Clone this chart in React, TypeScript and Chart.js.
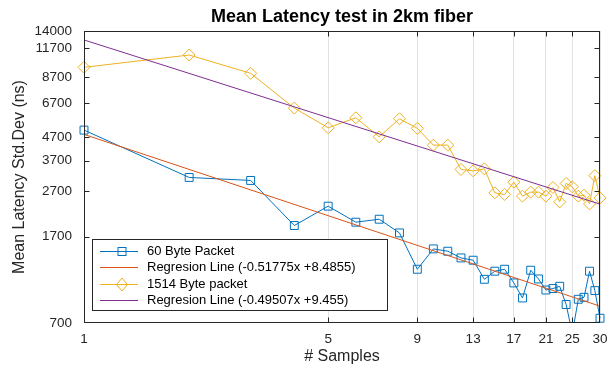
import React, { useEffect, useRef } from 'react';
import { Chart, registerables } from 'chart.js';

Chart.register(...registerables);

const xSamples = [1, 2, 3, 4, 5, 6, 7, 8, 9, 10, 11, 12, 13, 14, 15, 16, 17, 18, 19, 20, 21, 22, 23, 24, 25, 26, 27, 28, 29, 30];
const packet60 = [5065, 3116, 3022, 1903, 2321, 1969, 2030, 1764, 1215, 1497, 1462, 1365, 1333, 1096, 1191, 1215, 1056, 905, 1203, 1100, 982, 997, 1020, 846, 630, 893, 911, 1191, 976, 735];
const packet1514 = [9645, 10943, 9069, 6347, 5187, 5747, 4727, 5689, 5155, 4342, 4342, 3383, 3335, 3404, 2660, 2617, 2970, 2572, 2680, 2680, 2572, 2812, 2425, 2931, 2829, 2572, 2598, 2376, 3175, 2527];
const reg60X = [1, 30];
const reg60Y = [4846, 832];
const reg1514X = [1, 30];
const reg1514Y = [12773, 2370];
const xTickValues = [1, 5, 9, 13, 17, 21, 25, 30];
const yTickValues = [700, 1700, 2700, 3700, 4700, 6700, 8700, 11700, 14000];
const seriesLabels = ['60 Byte Packet', 'Regresion Line (-0.51775x +8.4855)', '1514 Byte packet', 'Regresion Line (-0.49507x +9.455)'];
const chartTitle = 'Mean Latency test in 2km fiber';
const xTitle = '# Samples';
const yTitle = 'Mean Latency Std.Dev (ns)';

const BLUE = '#0072BD';
const ORANGE = '#D95319';
const YELLOW = '#EDB120';
const PURPLE = '#7E2F8E';
const AXIS = '#262626';
const FONT = "'Liberation Sans', Arial, sans-serif";

const toPoints = (xs: number[], ys: number[]) => xs.map((x, i) => ({ x, y: ys[i] }));

function drawSquare(ctx: CanvasRenderingContext2D, x: number, y: number, color: string) {
  ctx.strokeStyle = color;
  ctx.lineWidth = 1;
  ctx.strokeRect(x - 4, y - 4, 8, 8);
}

function drawDiamond(ctx: CanvasRenderingContext2D, x: number, y: number, color: string) {
  ctx.strokeStyle = color;
  ctx.lineWidth = 1;
  ctx.beginPath();
  ctx.moveTo(x, y - 6.5);
  ctx.lineTo(x + 5.5, y);
  ctx.lineTo(x, y + 6.5);
  ctx.lineTo(x - 5.5, y);
  ctx.closePath();
  ctx.stroke();
}

const decor = {
  id: 'decor',
  afterDatasetsDraw(chart: any) {
    const { ctx, chartArea: a, scales } = chart;
    ctx.save();
    const L = Math.round(a.left) + 0.5;
    const R = Math.round(a.right) - 0.5;
    const T = Math.round(a.top) + 0.5;
    const B = Math.round(a.bottom) - 0.5;
    ctx.strokeStyle = AXIS;
    ctx.lineWidth = 1;
    ctx.strokeRect(L, T, R - L, B - T);
    ctx.beginPath();
    for (const v of yTickValues) {
      if (v === yTickValues[0] || v === yTickValues[yTickValues.length - 1]) continue;
      const y = Math.round(scales.y.getPixelForValue(v)) + 0.5;
      ctx.moveTo(L, y); ctx.lineTo(L + 5, y);
      ctx.moveTo(R, y); ctx.lineTo(R - 5, y);
    }
    for (const v of xTickValues) {
      if (v === xTickValues[0] || v === xTickValues[xTickValues.length - 1]) continue;
      const x = Math.round(scales.x.getPixelForValue(v)) + 0.5;
      ctx.moveTo(x, B); ctx.lineTo(x, B - 5);
      ctx.moveTo(x, T); ctx.lineTo(x, T + 5);
    }
    ctx.stroke();

    // title
    const cx = (a.left + a.right) / 2;
    ctx.fillStyle = '#000';
    ctx.font = `bold 18px ${FONT}`;
    ctx.textAlign = 'center';
    ctx.textBaseline = 'middle';
    ctx.fillText(chartTitle, cx, 17);

    // axis titles
    ctx.fillStyle = AXIS;
    ctx.font = `16px ${FONT}`;
    ctx.fillText(xTitle, cx, 357);
    ctx.save();
    ctx.translate(20, (a.top + a.bottom) / 2);
    ctx.rotate(-Math.PI / 2);
    ctx.fillText(yTitle, 0, 0);
    ctx.restore();

    // legend
    const bx = 92.5, by = 239.5, bw = 295, bh = 71;
    ctx.fillStyle = '#fff';
    ctx.fillRect(bx, by, bw, bh);
    ctx.strokeStyle = AXIS;
    ctx.strokeRect(bx, by, bw, bh);
    const rows = [251, 267, 283.5, 300];
    const colors = [BLUE, ORANGE, YELLOW, PURPLE];
    ctx.font = `13px ${FONT}`;
    ctx.textAlign = 'left';
    for (let i = 0; i < 4; i++) {
      const y = Math.round(rows[i]) + 0.5;
      ctx.strokeStyle = colors[i];
      ctx.lineWidth = 1;
      ctx.beginPath();
      ctx.moveTo(100, y); ctx.lineTo(138, y);
      ctx.stroke();
      if (i === 0) drawSquare(ctx, 122, y, colors[i]);
      if (i === 2) drawDiamond(ctx, 122, y, colors[i]);
      ctx.fillStyle = '#000';
      ctx.fillText(seriesLabels[i], 147, rows[i] + 0.5);
    }
    ctx.restore();
  },
};

export default function App() {
  const ref = useRef<HTMLCanvasElement | null>(null);
  useEffect(() => {
    if (!ref.current) return;
    const clip = { left: 12, right: 12, top: 12, bottom: 0 };
    const chart = new Chart(ref.current, {
      type: 'line',
      data: {
        datasets: [
          {
            label: seriesLabels[0],
            data: toPoints(xSamples, packet60),
            borderColor: BLUE,
            borderWidth: 1,
            pointStyle: 'rect',
            pointRadius: 5.6,
            pointBorderWidth: 1,
            pointBorderColor: BLUE,
            pointBackgroundColor: 'rgba(0,0,0,0)',
            clip,
            order: 3,
          },
          {
            label: seriesLabels[1],
            data: toPoints(reg60X, reg60Y),
            borderColor: ORANGE,
            borderWidth: 1,
            pointRadius: 0,
            clip,
            order: 2,
          },
          {
            label: seriesLabels[2],
            data: toPoints(xSamples, packet1514),
            borderColor: YELLOW,
            borderWidth: 1,
            pointStyle: 'rectRot',
            pointRadius: 6,
            pointBorderWidth: 1,
            pointBorderColor: YELLOW,
            pointBackgroundColor: 'rgba(0,0,0,0)',
            clip,
            order: 1,
          },
          {
            label: seriesLabels[3],
            data: toPoints(reg1514X, reg1514Y),
            borderColor: PURPLE,
            borderWidth: 1,
            pointRadius: 0,
            clip,
            order: 0,
          },
        ],
      },
      options: {
        responsive: false,
        animation: false,
        devicePixelRatio: 1,
        layout: { padding: { top: 31, right: 0, left: 0, bottom: 0 } },
        plugins: { legend: { display: false }, title: { display: false }, tooltip: { enabled: false } },
        scales: {
          x: {
            type: 'logarithmic',
            min: 1,
            max: 30,
            afterBuildTicks: (s: any) => { s.ticks = xTickValues.map((v) => ({ value: v })); },
            afterFit: (s: any) => { s.height = 42; s.paddingRight = 7; s.paddingLeft = 0; },
            ticks: {
              callback: (v: any) => String(v),
              color: AXIS,
              font: { family: FONT, size: 13.5 },
              padding: 8,
              maxRotation: 0,
              autoSkip: false,
            },
            grid: { color: '#e2e2e2', lineWidth: 1, drawTicks: false },
            border: { display: false },
          },
          y: {
            type: 'logarithmic',
            min: 700,
            max: 14000,
            afterBuildTicks: (s: any) => { s.ticks = yTickValues.map((v) => ({ value: v })); },
            afterFit: (s: any) => { s.width = 84; s.paddingTop = 0; s.paddingBottom = 0; },
            ticks: {
              callback: (v: any) => String(v),
              color: AXIS,
              font: { family: FONT, size: 13.5 },
              padding: 12,
              autoSkip: false,
            },
            grid: { display: false, drawTicks: false },
            border: { display: false },
          },
        },
      },
      plugins: [decor],
    } as any);
    return () => chart.destroy();
  }, []);
  return (
    <div style={{ position: 'fixed', left: 0, top: 0, width: 607, height: 365, background: '#fff' }}>
      <canvas ref={ref} width={607} height={365} />
    </div>
  );
}
